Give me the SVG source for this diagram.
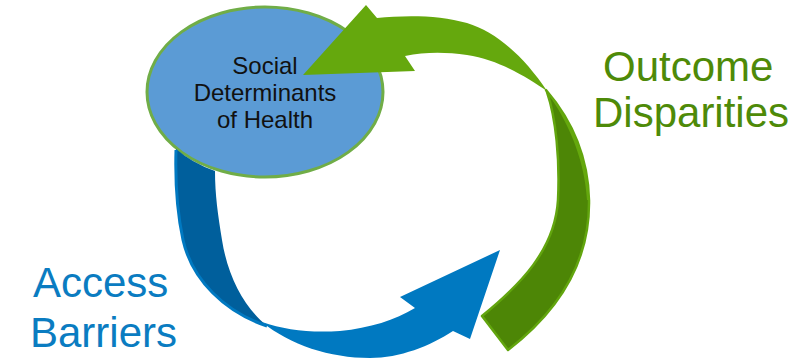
<svg xmlns="http://www.w3.org/2000/svg" width="810" height="361" viewBox="0 0 810 361">
  <style>
    .node-text { font-family: "Liberation Sans", Arial, sans-serif; font-size: 24px; fill: #111111; text-anchor: middle; }
    .label { font-family: "Liberation Sans", Arial, sans-serif; font-size: 42px; }
    .green-label { fill: #4E8A08; }
    .blue-label { fill: #0A7CC1; }
    .green-light { fill: #65A80D; }
    .green-dark { fill: #4D8606; stroke: #62A50E; stroke-width: 2.5; stroke-linejoin: round; }
    .blue-light { fill: #0079C1; }
    .blue-dark { fill: #005F9C; }
  </style>
  <rect width="810" height="361" fill="#FFFFFF"/>

  <g id="node-social-determinants">
    <ellipse cx="265" cy="92" rx="118" ry="85" fill="#5B9BD5" stroke="#70AD47" stroke-width="3"/>
    <text class="node-text" x="265" y="74">Social</text>
    <text class="node-text" x="265" y="101">Determinants</text>
    <text class="node-text" x="265" y="128">of Health</text>
  </g>

  <g id="connectors">
    <g id="access-barriers-arrow">
      <path class="blue-dark" d="M176,149 C175,185 177,212 183,240 C192,280 225,312 267,326 C245,308 228,278 222,240 C218,215 215,195 215,171 A119.5 86.5 0 0 1 176,149 Z"/>
      <path d="M176,150 C175,185 177,212 183,240 C192,280 225,312 267,326" fill="none" stroke="#0079C1" stroke-width="3"/>
      <path class="blue-light" d="M262,322 C290,345 330,358 370,358 C400,358 430,346 453,331 L470,339 L500,250 L400,297 L415,308 C395,320 370,328 340,331 C310,333 285,330 262,322 Z"/>
    </g>
    <g id="outcome-disparities-arrow">
      <path class="green-dark" d="M546,90 C570,118 588,155 589,200 C590,260 560,310 508,350 L482,316 C520,285 555,250 558,200 C560,160 556,118 547,92 Z"/>
      <path class="green-light" d="M546,90 C570,118 588,155 589,200 L587,200 C585,165 572,128 549,95 Z"/>
      <path class="green-light" d="M303,75 L366,5 L377,18 C405,15 440,15 467,23 C497,32 525,58 547,91 C528,78 500,60 467,55 C445,52 425,52 405,56 L415,71 Z"/>
    </g>
  </g>

  <g id="label-outcome-disparities">
    <text class="label green-label" x="603" y="81">Outcome</text>
    <text class="label green-label" x="593" y="127">Disparities</text>
  </g>
  <g id="label-access-barriers">
    <text class="label blue-label" x="33" y="297">Access</text>
    <text class="label blue-label" x="30" y="347">Barriers</text>
  </g>
</svg>
